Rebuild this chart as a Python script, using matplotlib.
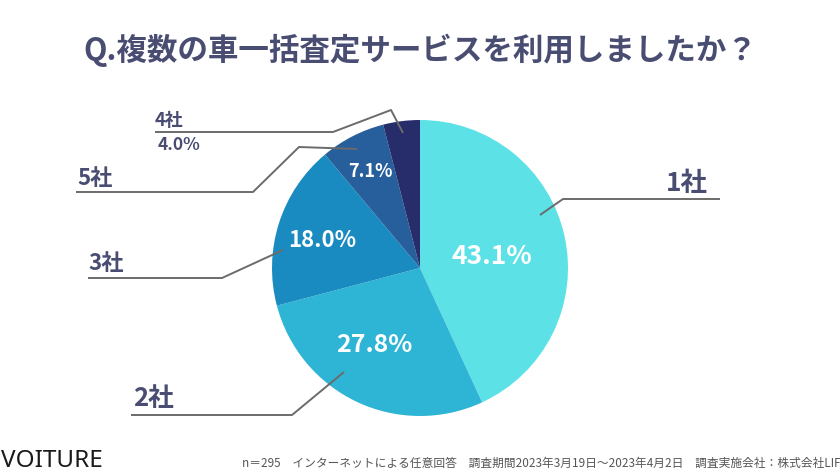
import matplotlib
matplotlib.use("Agg")
import matplotlib.pyplot as plt

plt.rcParams['font.family'] = ['Noto Sans CJK JP', 'DejaVu Sans']

categories = ['1社', '2社', '3社', '5社', '4社']
values = [43.1, 27.8, 18.0, 7.1, 4.0]
colors = ['#5CE1E6', '#2EB5D5', '#1A8BC0', '#275E9C', '#272D6B']
title = 'Q.複数の車一括査定サービスを利用しましたか？'
footnote = 'n＝295　インターネットによる任意回答　調査期間2023年3月19日～2023年4月2日　調査実施会社：株式会社LIF'
brand = 'VOITURE'

W, H = 840, 473
fig = plt.figure(figsize=(8.4, 4.73), dpi=100)
ax = fig.add_axes([0, 0, 1, 1])

def Y(y):
    return H - y

cx, cy, r = 420, 268, 148
ax.pie(values, colors=colors, startangle=90, counterclock=False,
       center=(cx, Y(cy)), radius=r, frame=True,
       wedgeprops=dict(linewidth=0))
ax.set_xlim(0, W)
ax.set_ylim(0, H)
ax.axis('off')

txt_col = '#4A4D72'
line_col = '#6B6B6B'

# leader lines (pixel layout)
leaders = [
    [(540, 215), (563, 199), (720, 199)],
    [(344, 372), (292, 415), (131, 415)],
    [(283, 250), (222, 278), (88, 278)],
    [(357, 149), (299, 147), (253, 192), (76, 192)],
    [(403, 133), (391, 110), (333, 132), (155, 132)],
]
for pts in leaders:
    xs = [p[0] for p in pts]
    ys = [Y(p[1]) for p in pts]
    ax.plot(xs, ys, color=line_col, lw=1.4, solid_capstyle='butt')

# category labels
cat_pos = [(708, 197, 'right', 19), (133, 412, 'left', 18.5), (88, 275, 'left', 16),
           (77, 190, 'left', 16), (155, 130, 'left', 13)]
for lab, (x, y, ha, fs) in zip(categories, cat_pos):
    ax.text(x, Y(y), lab, ha=ha, va='bottom', fontsize=fs, fontweight='bold', color=txt_col)

# percent labels
pct_pos = [(492, 257, 19), (374, 345, 18), (322, 240, 16), (370, 171, 13)]
for v, (x, y, fs) in zip(values[:4], pct_pos):
    ax.text(x, Y(y), f'{v:.1f}%', ha='center', va='center', fontsize=fs,
            fontweight='bold', color='white')
ax.text(158, Y(145), f'{values[4]:.1f}%', ha='left', va='center', fontsize=12.5,
        fontweight='bold', color=txt_col)

ax.text(420, Y(50), title, ha='center', va='center', fontsize=22,
        fontweight='bold', color=txt_col)

ax.text(1, Y(461), brand, ha='left', va='center', fontsize=17.5,
        family=['Noto Sans', 'DejaVu Sans'], fontweight='normal', color='#1a1a1a')
ax.text(242, Y(463), footnote, ha='left', va='center', fontsize=8.45, color='#555555')

fig.savefig('out.png', dpi=100, facecolor='white')
